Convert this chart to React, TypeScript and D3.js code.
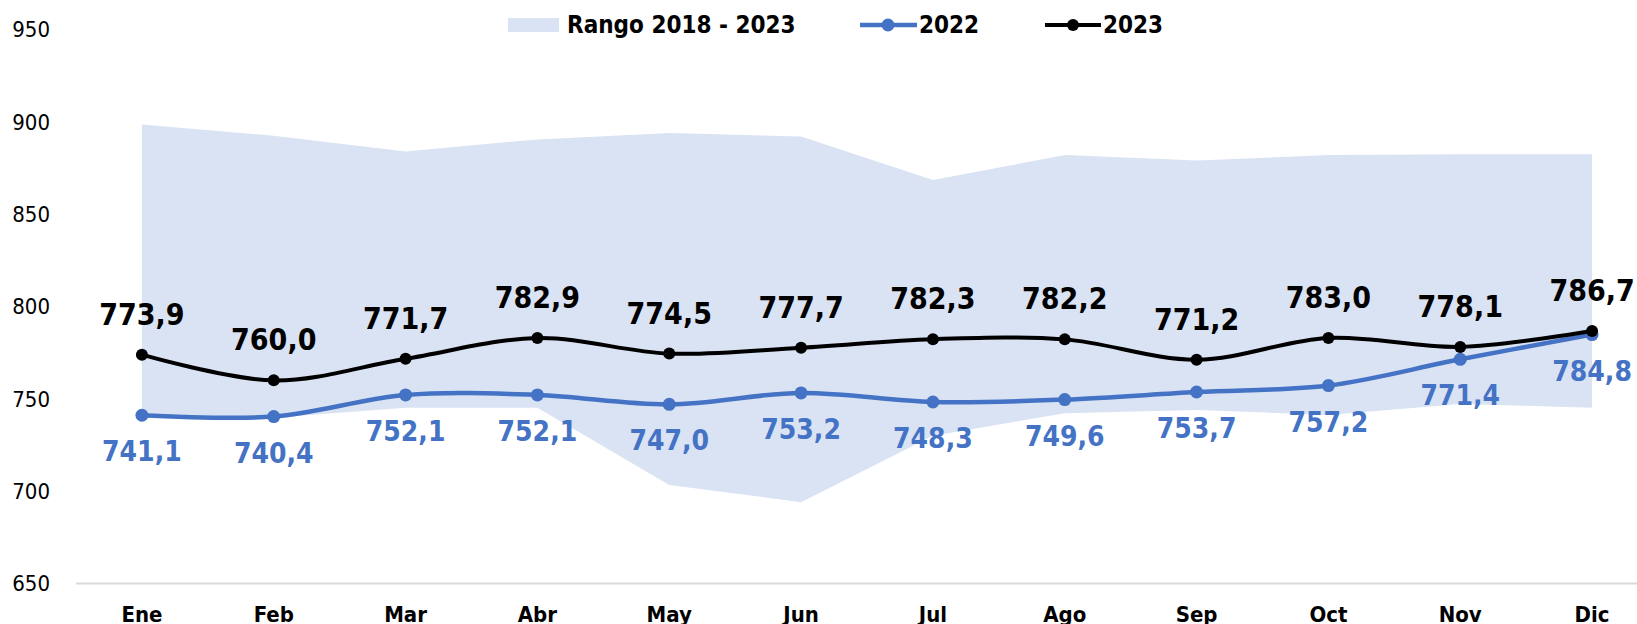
import React from "react";
import * as d3 from "d3";

const months = ["Ene", "Feb", "Mar", "Abr", "May", "Jun", "Jul", "Ago", "Sep", "Oct", "Nov", "Dic"];
const rangeMin = [740.5, 739.8, 745.2, 745.2, 703.4, 694.0, 730.0, 742.2, 744.0, 741.3, 747.2, 745.2];
const rangeMax = [898.5, 892.5, 884.0, 890.5, 894.0, 892.0, 868.5, 882.0, 879.0, 882.0, 882.5, 882.5];
const values2022 = [741.1, 740.4, 752.1, 752.1, 747.0, 753.2, 748.3, 749.6, 753.7, 757.2, 771.4, 784.8];
const values2023 = [773.9, 760.0, 771.7, 782.9, 774.5, 777.7, 782.3, 782.2, 771.2, 783.0, 778.1, 786.7];
const yTicks = [650, 700, 750, 800, 850, 900, 950];
const legendLabels = ["Rango 2018 - 2023", "2022", "2023"];

const W = 1637;
const H = 624;
const BLUE = "#4472C4";
const BAND = "#DAE3F3";
const FONT = "'DejaVu Sans Condensed', 'DejaVu Sans', sans-serif";

const fmt = (v: number) => d3.format(".1f")(v).replace(".", ",");

export default function App() {
  const x = d3.scalePoint<string>().domain(months).range([76, 1658]).padding(0.5);
  const y = d3.scaleLinear().domain([650, 950]).range([583.5, 29.5]);

  const area = d3
    .area<number>()
    .x((_, i) => x(months[i]) as number)
    .y0((_, i) => y(rangeMin[i]))
    .y1((_, i) => y(rangeMax[i]));

  const line = d3
    .line<number>()
    .x((_, i) => x(months[i]) as number)
    .y((d) => y(d))
    .curve(d3.curveCatmullRom.alpha(0.5));

  return (
    <svg
      width={W}
      height={H}
      style={{ position: "absolute", left: 0, top: 0, fontFamily: FONT, fontStretch: "condensed" }}
    >
      <rect width={W} height={H} fill="#fff" />
      <path d={area(rangeMin) || ""} fill={BAND} />
      <line x1={76} x2={W} y1={y(650)} y2={y(650)} stroke="#D9D9D9" strokeWidth={2} />

      {yTicks.map((t) => (
        <text key={t} x={50} y={y(t)} dy="0.35em" textAnchor="end" fontSize={22} fill="#000">
          {t}
        </text>
      ))}

      {months.map((m) => (
        <text key={m} x={x(m)} y={622} textAnchor="middle" fontSize={22} fontWeight="bold" fill="#000">
          {m}
        </text>
      ))}

      <path d={line(values2022) || ""} fill="none" stroke={BLUE} strokeWidth={4.5} />
      {values2022.map((v, i) => (
        <circle key={"b" + i} cx={x(months[i])} cy={y(v)} r={6.5} fill={BLUE} />
      ))}
      <path d={line(values2023) || ""} fill="none" stroke="#000" strokeWidth={4} />
      {values2023.map((v, i) => (
        <circle key={"k" + i} cx={x(months[i])} cy={y(v)} r={6} fill="#000" />
      ))}

      {values2022.map((v, i) => (
        <text
          key={"lb" + i}
          x={x(months[i])}
          y={y(v) + 46}
          textAnchor="middle"
          fontSize={28}
          fontWeight="bold"
          fill={BLUE}
        >
          {fmt(v)}
        </text>
      ))}
      {values2023.map((v, i) => (
        <text
          key={"lk" + i}
          x={x(months[i])}
          y={y(v) - 30}
          textAnchor="middle"
          fontSize={30}
          fontWeight="bold"
          fill="#000"
        >
          {fmt(v)}
        </text>
      ))}

      <g>
        <rect x={508} y={18} width={51} height={14} fill={BAND} />
        <text x={567} y={25} dy="0.35em" fontSize={24} fontWeight="bold" fill="#000">
          {legendLabels[0]}
        </text>
        <line x1={860} x2={917} y1={25} y2={25} stroke={BLUE} strokeWidth={4.5} />
        <circle cx={888} cy={25} r={6.5} fill={BLUE} />
        <text x={919} y={25} dy="0.35em" fontSize={24} fontWeight="bold" fill="#000">
          {legendLabels[1]}
        </text>
        <line x1={1045} x2={1101} y1={25} y2={25} stroke="#000" strokeWidth={4} />
        <circle cx={1073} cy={25} r={6} fill="#000" />
        <text x={1103} y={25} dy="0.35em" fontSize={24} fontWeight="bold" fill="#000">
          {legendLabels[2]}
        </text>
      </g>
    </svg>
  );
}
